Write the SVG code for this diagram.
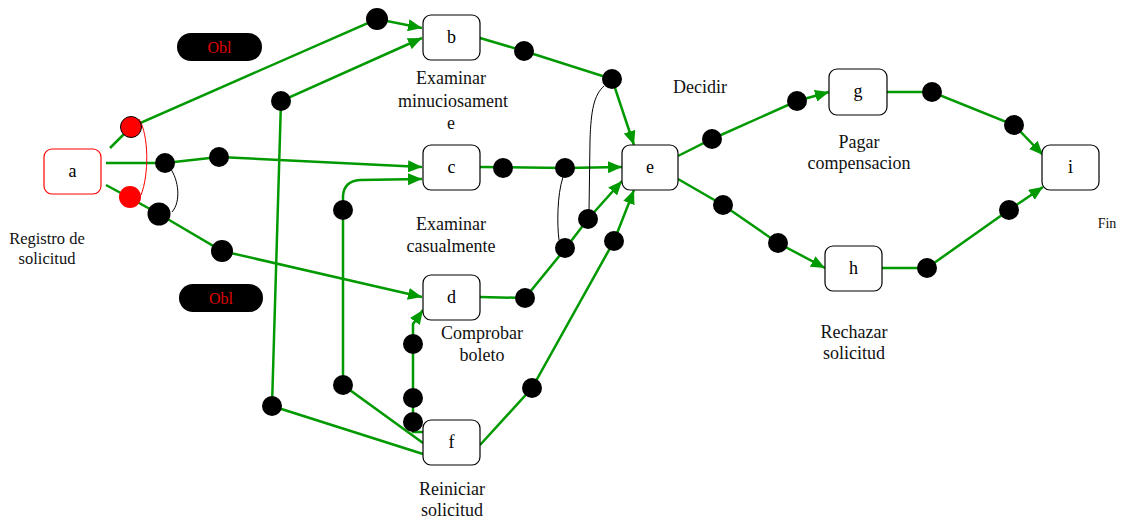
<svg xmlns="http://www.w3.org/2000/svg" width="1122" height="520" viewBox="0 0 1122 520">
<style>
.node rect{fill:#fff;stroke:#000;stroke-width:1.2}
.node text{font-family:'Liberation Serif','Times New Roman','DejaVu Serif',serif;font-size:18px;fill:#000;text-anchor:middle}
.lbl{font-family:'Liberation Serif','Times New Roman','DejaVu Serif',serif;font-size:18px;fill:#111;text-anchor:middle}
.edge{fill:none;stroke:#009900;stroke-width:2.5}
.thin{fill:none;stroke:#000;stroke-width:1}
.dot{fill:#000}
.pill rect{fill:#000}
.pill text{font-family:'Liberation Serif','Times New Roman','DejaVu Serif',serif;font-size:16px;fill:#e00000;text-anchor:middle}
</style>
<defs>
<marker id="arr" markerUnits="userSpaceOnUse" markerWidth="14" markerHeight="12" refX="14" refY="6" orient="auto">
<path d="M0,0 L14,6 L0,12 z" fill="#009900"/>
</marker>
</defs>
<rect width="1122" height="520" fill="#fff"/>
<g id="connectors">
<path class="edge" d="M110,148 L131,127 L377,19 L422,28" marker-end="url(#arr)"/>
<path class="edge" d="M423,454 L272,406 L281,101 L422,38" marker-end="url(#arr)"/>
<path class="edge" d="M106,163 L165,163 L219,157 L422,167" marker-end="url(#arr)"/>
<path class="edge" d="M423,443 L343,385 L343,196 Q344,181 360,180 L422,179" marker-end="url(#arr)"/>
<path class="edge" d="M106,185 L130,198 L159,214 L222,251 L422,297" marker-end="url(#arr)"/>
<path class="edge" d="M423,432 L413,432 L413,324 L423,310" marker-end="url(#arr)"/>
<path class="edge" d="M480,38 L524,51 L612,79 L634,145" marker-end="url(#arr)"/>
<path class="edge" d="M480,167 L565,168 L622,167" marker-end="url(#arr)"/>
<path class="edge" d="M480,297 L525,298 L565,249 L588,219 L622,181" marker-end="url(#arr)"/>
<path class="edge" d="M480,445 L532,388 L614,241 L634,190" marker-end="url(#arr)"/>
<path class="edge" d="M678,156 L712,139 L797,101 L829,92" marker-end="url(#arr)"/>
<path class="edge" d="M678,179 L723,205 L778,243 L825,268" marker-end="url(#arr)"/>
<path class="edge" d="M887,92 L932,92 L1014,125 L1043,155" marker-end="url(#arr)"/>
<path class="edge" d="M882,268 L927,268 L1009,210 L1043,187" marker-end="url(#arr)"/>
<path d="M139,119 C149,135 149,175 141,195" fill="none" stroke="#ff0000" stroke-width="1"/>
<path class="thin" d="M170,168 C179,180 181,202 172,212"/>
<path class="thin" d="M563,177 C557,195 557,225 559,240"/>
<path class="thin" d="M604,86 C594,95 591,110 590,140 L589,212"/>
</g>
<g id="dots">
<circle cx="131" cy="127" r="10.5" fill="#ff0000" stroke="#000" stroke-width="1"/>
<circle cx="130" cy="197" r="11" fill="#ff0000"/>
<circle class="dot" cx="377" cy="19" r="11"/>
<circle class="dot" cx="281" cy="101" r="10"/>
<circle class="dot" cx="165" cy="163" r="10"/>
<circle class="dot" cx="219" cy="157" r="10"/>
<circle class="dot" cx="159" cy="214" r="11.5"/>
<circle class="dot" cx="222" cy="251" r="11"/>
<circle class="dot" cx="524" cy="51" r="10"/>
<circle class="dot" cx="612" cy="79" r="10"/>
<circle class="dot" cx="503" cy="168" r="10"/>
<circle class="dot" cx="565" cy="168" r="10"/>
<circle class="dot" cx="588" cy="219" r="10"/>
<circle class="dot" cx="565" cy="248" r="10"/>
<circle class="dot" cx="614" cy="241" r="10"/>
<circle class="dot" cx="525" cy="298" r="10"/>
<circle class="dot" cx="343" cy="210" r="10"/>
<circle class="dot" cx="343" cy="385" r="10"/>
<circle class="dot" cx="272" cy="406" r="10"/>
<circle class="dot" cx="413" cy="344" r="10"/>
<circle class="dot" cx="413" cy="398" r="10"/>
<circle class="dot" cx="413" cy="422" r="10"/>
<circle class="dot" cx="532" cy="388" r="10"/>
<circle class="dot" cx="712" cy="139" r="10"/>
<circle class="dot" cx="797" cy="101" r="10"/>
<circle class="dot" cx="932" cy="92" r="10"/>
<circle class="dot" cx="1014" cy="125" r="10"/>
<circle class="dot" cx="723" cy="205" r="10"/>
<circle class="dot" cx="778" cy="243" r="10"/>
<circle class="dot" cx="927" cy="268" r="10"/>
<circle class="dot" cx="1009" cy="210" r="10"/>
</g>
<g id="obl1" class="pill"><rect x="177" y="33" width="85" height="28" rx="14"/><text x="219.5" y="52.5">Obl</text></g>
<g id="obl2" class="pill"><rect x="179" y="284" width="84" height="28" rx="14"/><text x="221" y="303.5">Obl</text></g>
<g id="a" class="node"><rect x="44" y="149" width="57" height="45" rx="8" style="stroke:#ff0000"/><text x="72.5" y="177">a</text></g>
<g id="b" class="node"><rect x="423" y="15" width="57" height="45" rx="8"/><text x="451.5" y="43">b</text></g>
<g id="c" class="node"><rect x="423" y="145" width="57" height="45" rx="8"/><text x="451.5" y="173">c</text></g>
<g id="d" class="node"><rect x="423" y="275" width="57" height="45" rx="8"/><text x="451.5" y="303">d</text></g>
<g id="e" class="node"><rect x="622" y="145" width="56" height="45" rx="8"/><text x="650" y="173">e</text></g>
<g id="f" class="node"><rect x="423" y="420" width="57" height="45" rx="8"/><text x="451.5" y="448">f</text></g>
<g id="g" class="node"><rect x="829" y="69" width="58" height="46" rx="8"/><text x="858" y="97">g</text></g>
<g id="h" class="node"><rect x="825" y="246" width="57" height="45" rx="8"/><text x="853.5" y="274">h</text></g>
<g id="i" class="node"><rect x="1042" y="145" width="57" height="45" rx="8"/><text x="1070.5" y="173">i</text></g>
<g id="labels">
<text class="lbl" x="47" y="244" style="font-size:16.5px">Registro de</text>
<text class="lbl" x="47" y="264" style="font-size:16.5px">solicitud</text>
<text class="lbl" x="451" y="84">Examinar</text>
<text class="lbl" x="453" y="107">minuciosament</text>
<text class="lbl" x="451" y="129">e</text>
<text class="lbl" x="451" y="230">Examinar</text>
<text class="lbl" x="451" y="252">casualmente</text>
<text class="lbl" x="482" y="339">Comprobar</text>
<text class="lbl" x="482" y="361">boleto</text>
<text class="lbl" x="452" y="495">Reiniciar</text>
<text class="lbl" x="452" y="516">solicitud</text>
<text class="lbl" x="700" y="93">Decidir</text>
<text class="lbl" x="859" y="148">Pagar</text>
<text class="lbl" x="859" y="169">compensacion</text>
<text class="lbl" x="854" y="338">Rechazar</text>
<text class="lbl" x="854" y="359">solicitud</text>
<text class="lbl" x="1107" y="228" style="font-size:14px">Fin</text>
</g>
</svg>
